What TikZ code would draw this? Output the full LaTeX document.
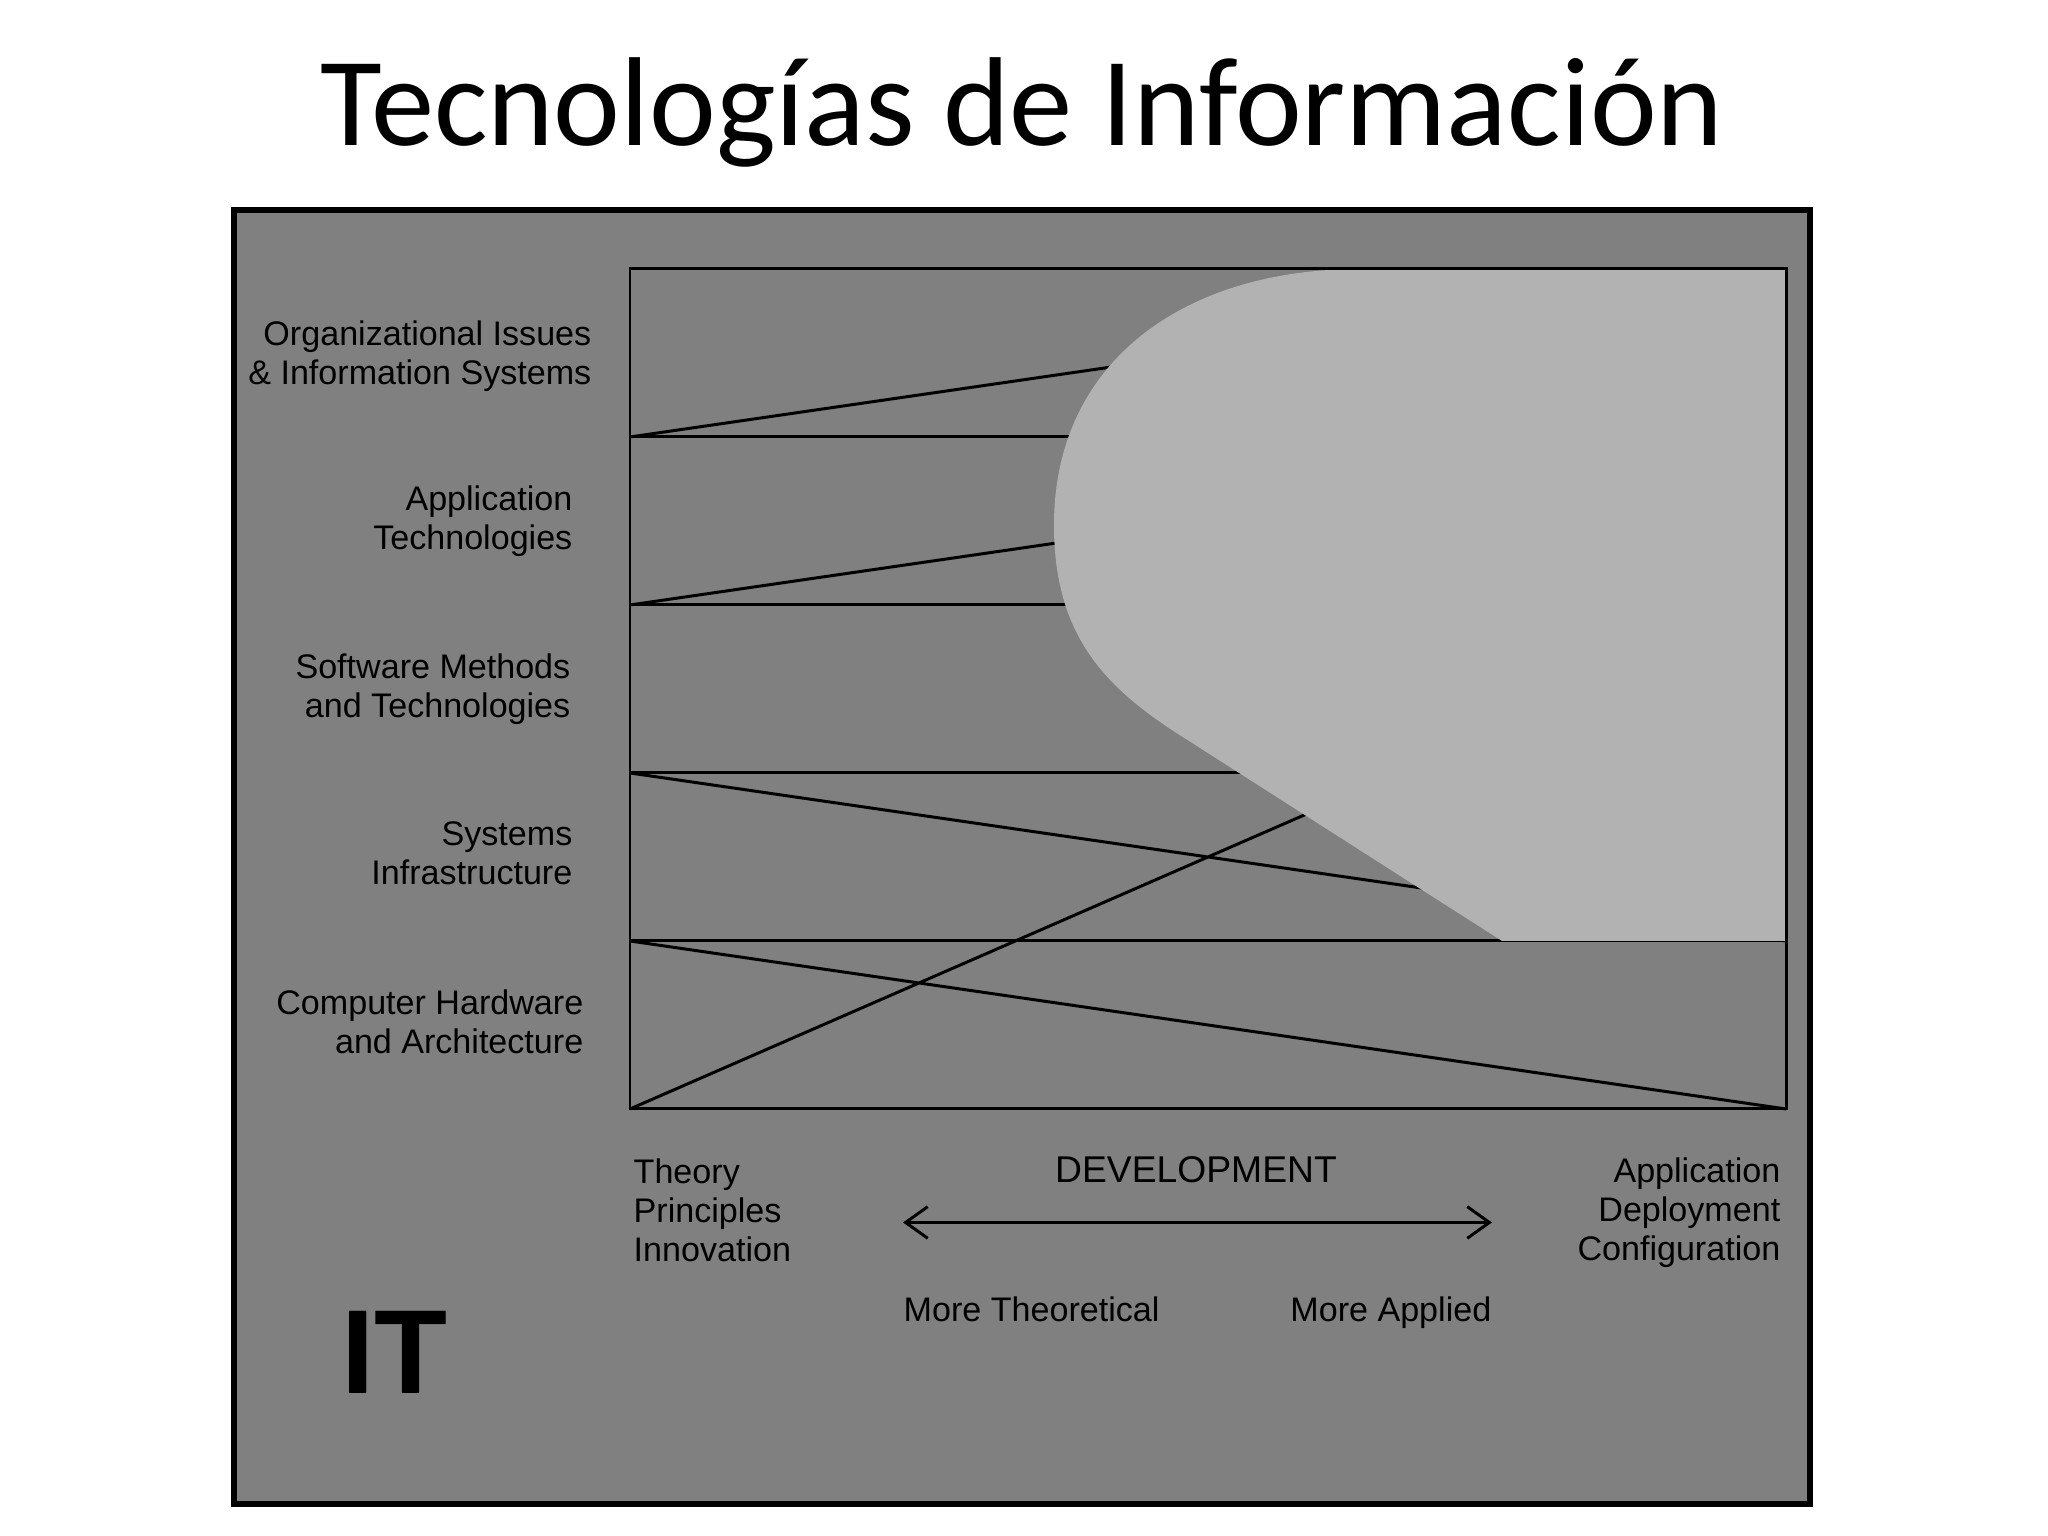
\documentclass[tikz,border=0pt]{standalone}
\usepackage{fontspec}
\setmainfont{Liberation Sans}
\newfontfamily\titlefont{Carlito}
\usetikzlibrary{arrows.meta}
\definecolor{panel}{gray}{0.5}
\definecolor{blob}{gray}{0.70}
\tikzset{lbl/.append style={anchor=east, align=right, inner sep=0pt, font=\fontsize{9.7}{11.1}\selectfont}}
\tikzset{bl/.append style={inner sep=0pt, font=\fontsize{9.7}{11.1}\selectfont}}
\tikzset{ln/.append style={line width=0.85pt}}
\tikzset{barb/.style={line width=0.85pt, {Straight Barb[length=6.3pt,width=9pt]}-{Straight Barb[length=6.3pt,width=9pt]}}}

\begin{document}
\begin{tikzpicture}
                \useasboundingbox[fill=white] (0,0) rectangle (20.48,15.36);
                \node[anchor=base, font=\titlefont\fontsize{36}{40}\selectfont] (title) at (10.22,13.90) {Tecnologías de Información};
                \draw[line width=1.7pt, fill=panel] (2.34,13.26) rectangle (18.10,0.32);
                % grid corners
                \coordinate (l0) at (6.30,12.67); \coordinate (r0) at (17.86,12.67);
                \coordinate (l1) at (6.30,10.99); \coordinate (r1) at (17.86,10.99);
                \coordinate (l2) at (6.30,9.31);  \coordinate (r2) at (17.86,9.31);
                \coordinate (l3) at (6.30,7.63);  \coordinate (r3) at (17.86,7.63);
                \coordinate (l4) at (6.30,5.95);  \coordinate (r4) at (17.86,5.95);
                \coordinate (l5) at (6.30,4.27);  \coordinate (r5) at (17.86,4.27);
                \draw[ln] (l1) -- (r1) (l2) -- (r2) (l3) -- (r3) (l4) -- (r4);
                \draw[ln] (l1) -- (r0) (l2) -- (r1) (l3) -- (r4) (l4) -- (r5) (l5) -- (r2);
                % applied region
                \fill[blob] (r0) -- (13.60,12.67) .. controls (11.85,12.67) and (10.54,11.75) .. (10.54,10.11)
                    .. controls (10.54,8.96) and (11.09,8.45) .. (11.89,7.95) -- (15.02,5.95) -- (r4) -- cycle;
                \draw[ln] (l0) rectangle (r5);
                % row labels
                \node[lbl] (org) at (5.92,11.80) {Organizational Issues\\\& Information Systems};
                \node[lbl] (app) at (5.73,10.15) {Application\\Technologies};
                \node[lbl] (sw) at (5.71,8.47) {Software Methods\\and Technologies};
                \node[lbl] (sys) at (5.73,6.83) {Systems\\Infrastructure};
                \node[lbl] (hw) at (5.84,5.14) {Computer Hardware\\and Architecture};
                % axis
                \node[bl, anchor=west, align=left] (theory) at (6.33,3.26) {Theory\\Principles\\Innovation};
                \node[bl, anchor=east, align=right] (deploy) at (17.81,3.23) {Application\\Deployment\\Configuration};
                \node[bl, font=\fontsize{10.6}{12}\selectfont] (dev) at (11.96,3.66) {DEVELOPMENT};
                \coordinate (al) at (9.03,3.135);
                \coordinate (ar) at (14.92,3.135);
                \draw[barb] (al) -- (ar);
                \node[bl, anchor=base west] (theo) at (9.03,2.14) {More Theoretical};
                \node[bl, anchor=base east] (appd) at (14.92,2.14) {More Applied};
                \node[font=\bfseries\fontsize{34}{36}\selectfont] (it) at (3.945,1.84) {IT};
            \end{tikzpicture}
\end{document}
